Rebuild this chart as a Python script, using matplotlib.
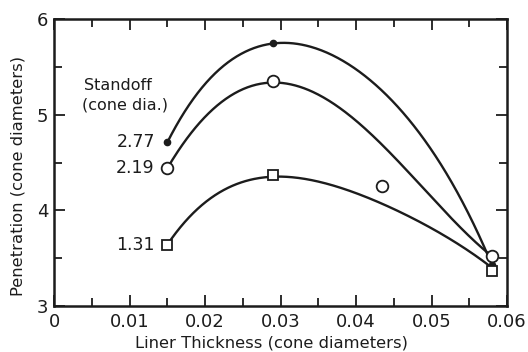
import numpy as np
import matplotlib
matplotlib.use("Agg")
import matplotlib.pyplot as plt
from matplotlib.ticker import MultipleLocator

# Measured penetration vs liner thickness for three standoffs
standoffs = ["2.77", "2.19", "1.31"]
thick_277 = [0.015, 0.029, 0.058]
pen_277 = [4.71, 5.75, 3.43]
thick_219 = [0.015, 0.029, 0.058]
pen_219 = [4.44, 5.35, 3.52]
thick_131 = [0.015, 0.029, 0.058]
pen_131 = [3.64, 4.37, 3.37]
# stray measurement lying off the faired curves
thick_extra = [0.0435]
pen_extra = [4.26]

# Hand-faired curves through the measurements (knots)
fair_x_277 = [0.015, 0.0175, 0.0214, 0.0254, 0.029, 0.035, 0.0416, 0.046, 0.0504, 0.0548, 0.058]
fair_y_277 = [4.71, 5.05, 5.43, 5.67, 5.75, 5.68, 5.38, 5.04, 4.58, 3.99, 3.43]
fair_x_219 = [0.015, 0.0175, 0.0214, 0.0254, 0.029, 0.0328, 0.0394, 0.0452, 0.0504, 0.058]
fair_y_219 = [4.44, 4.74, 5.08, 5.28, 5.35, 5.27, 4.98, 4.55, 4.10, 3.52]
fair_x_131 = [0.015, 0.0192, 0.0236, 0.029, 0.0328, 0.0372, 0.0416, 0.046, 0.0504, 0.0548, 0.058]
fair_y_131 = [3.64, 4.04, 4.23, 4.37, 4.34, 4.25, 4.13, 3.97, 3.79, 3.60, 3.40]

ink = "#1c1c1c"
plt.rcParams["font.family"] = ["DejaVu Sans"]


def faired(xk, yk, deg=4, n=300):
    """Smooth least-squares polynomial through the knots, pinned at the ends."""
    xk = np.asarray(xk, float)
    yk = np.asarray(yk, float)
    w = np.ones_like(xk)
    w[0] = w[-1] = 8.0
    xm = xk.mean()
    c = np.polyfit(xk - xm, yk, deg, w=w)
    xx = np.linspace(xk[0], xk[-1], n)
    return xx, np.polyval(c, xx - xm)


fig = plt.figure(figsize=(5.28, 3.52), dpi=100)
ax = fig.add_axes([0.1023, 0.1307, 0.858, 0.815])

for xk, yk in [(fair_x_277, fair_y_277), (fair_x_219, fair_y_219), (fair_x_131, fair_y_131)]:
    xx, yy = faired(xk, yk)
    ax.plot(xx, yy, color=ink, lw=1.7, zorder=2, solid_capstyle="round")

ax.plot(thick_277, pen_277, "o", ms=4.5, color=ink, zorder=3)
ax.plot(thick_219, pen_219, "o", ms=8.4, mfc="white", mec=ink, mew=1.3, zorder=4)
ax.plot(thick_extra, pen_extra, "o", ms=8.4, mfc="white", mec=ink, mew=1.3, zorder=4)
ax.plot(thick_131, pen_131, "s", ms=7.5, mfc="white", mec=ink, mew=1.3, zorder=4)

for lab, x0, y0 in zip(standoffs, [thick_277[0], thick_219[0], thick_131[0]],
                       [pen_277[0], pen_219[0], pen_131[0]]):
    ax.annotate(lab, (x0, y0), xytext=(-9, 0), textcoords="offset points",
                ha="right", va="center", fontsize=12.5, color=ink)

ax.text(0.0040, 5.31, "Standoff", fontsize=11.5, color=ink, va="center")
ax.text(0.0037, 5.10, "(cone dia.)", fontsize=11.5, color=ink, va="center")

ax.set_xlim(0, 0.06)
ax.set_ylim(3, 6)
ax.set_xticks([0, 0.01, 0.02, 0.03, 0.04, 0.05, 0.06])
ax.set_xticklabels(["0", "0.01", "0.02", "0.03", "0.04", "0.05", "0.06"])
ax.xaxis.set_minor_locator(MultipleLocator(0.005))
ax.yaxis.set_major_locator(MultipleLocator(1))
ax.yaxis.set_minor_locator(MultipleLocator(0.5))

ax.tick_params(which="both", direction="in", top=True, right=True,
               color=ink, labelcolor=ink, labelsize=13, width=1.3)
ax.tick_params(which="major", length=8)
ax.tick_params(which="minor", length=6)
ax.tick_params(axis="x", which="major", pad=5)
ax.tick_params(axis="y", which="major", pad=4)
for s in ax.spines.values():
    s.set_linewidth(1.8)
    s.set_color(ink)

ax.set_xlabel("Liner Thickness (cone diameters)", fontsize=11.8, color=ink, labelpad=3)
ax.set_ylabel("Penetration (cone diameters)", fontsize=11.8, color=ink, labelpad=8)
ax.xaxis.label.set_x(0.481)
ax.yaxis.label.set_y(0.455)

fig.savefig("out.png", dpi=100, facecolor="white")
